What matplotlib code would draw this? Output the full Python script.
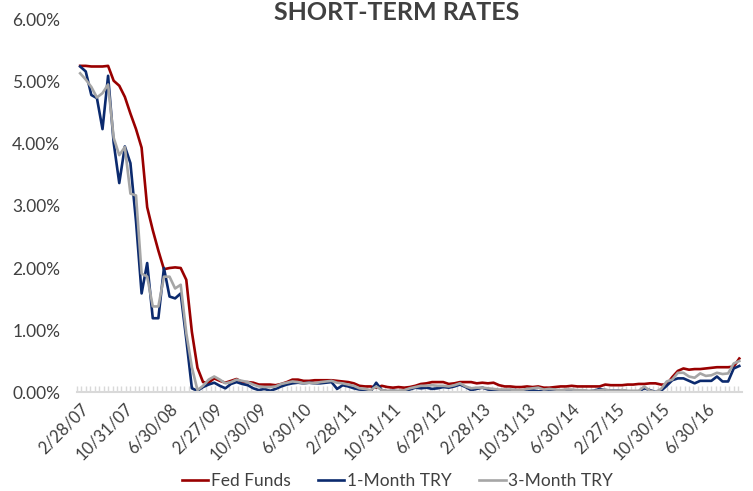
import matplotlib
matplotlib.use("Agg")
import matplotlib.pyplot as plt
import numpy as np

plt.rcParams['font.family'] = ['Lato', 'DejaVu Sans']

# monthly rates in percent, Feb 2007 .. Dec 2016
fed_funds = [
    5.26, 5.26, 5.25, 5.25, 5.25, 5.26, 5.02, 4.94, 4.76, 4.49, 4.24,        # 2007
    3.94, 2.98, 2.61, 2.28, 1.98, 2.00, 2.01, 2.00, 1.81, 0.97, 0.39, 0.16,  # 2008
    0.15, 0.22, 0.18, 0.15, 0.18, 0.21, 0.16, 0.16, 0.15, 0.12, 0.12, 0.12,  # 2009
    0.11, 0.13, 0.16, 0.20, 0.20, 0.18, 0.18, 0.19, 0.19, 0.19, 0.19, 0.18,  # 2010
    0.17, 0.16, 0.14, 0.10, 0.09, 0.09, 0.07, 0.10, 0.08, 0.07, 0.08, 0.07,  # 2011
    0.08, 0.10, 0.13, 0.14, 0.16, 0.16, 0.16, 0.13, 0.14, 0.16, 0.16, 0.16,  # 2012
    0.14, 0.15, 0.14, 0.15, 0.11, 0.09, 0.09, 0.08, 0.08, 0.09, 0.08, 0.09,  # 2013
    0.07, 0.07, 0.08, 0.09, 0.09, 0.10, 0.09, 0.09, 0.09, 0.09, 0.09, 0.12,  # 2014
    0.11, 0.11, 0.11, 0.12, 0.12, 0.13, 0.13, 0.14, 0.14, 0.12, 0.12, 0.24,  # 2015
    0.34, 0.38, 0.36, 0.37, 0.37, 0.38, 0.39, 0.40, 0.40, 0.40, 0.41, 0.54,  # 2016
]
one_month = [
    5.25, 5.17, 4.79, 4.74, 4.24, 5.10, 4.02, 3.37, 3.96, 3.69, 2.75,
    1.59, 2.08, 1.19, 1.19, 2.00, 1.54, 1.51, 1.59, 0.85, 0.06, 0.02, 0.08,
    0.12, 0.15, 0.10, 0.06, 0.13, 0.16, 0.13, 0.11, 0.06, 0.03, 0.05, 0.02,
    0.05, 0.09, 0.12, 0.14, 0.15, 0.14, 0.15, 0.14, 0.14, 0.15, 0.16, 0.05,
    0.11, 0.09, 0.06, 0.04, 0.03, 0.01, 0.15, 0.03, 0.01, 0.02, 0.01, 0.02,
    0.04, 0.07, 0.06, 0.07, 0.05, 0.06, 0.08, 0.07, 0.09, 0.12, 0.08, 0.03,
    0.05, 0.07, 0.04, 0.03, 0.01, 0.02, 0.03, 0.03, 0.01, 0.04, 0.03, 0.01,
    0.02, 0.04, 0.03, 0.02, 0.03, 0.02, 0.02, 0.02, 0.01, 0.02, 0.05, 0.03,
    0.02, 0.02, 0.03, 0.01, 0.01, 0.01, 0.06, 0.03, 0.00, 0.02, 0.10, 0.19,
    0.22, 0.22, 0.18, 0.14, 0.18, 0.18, 0.18, 0.25, 0.17, 0.17, 0.38, 0.42,
]
three_month = [
    5.14, 5.04, 4.92, 4.75, 4.82, 4.96, 4.10, 3.82, 3.95, 3.20, 3.17,
    1.91, 1.86, 1.38, 1.38, 1.86, 1.86, 1.67, 1.73, 0.95, 0.40, 0.03, 0.10,
    0.20, 0.25, 0.20, 0.14, 0.16, 0.20, 0.18, 0.16, 0.12, 0.09, 0.08, 0.08,
    0.09, 0.13, 0.15, 0.17, 0.16, 0.14, 0.15, 0.14, 0.16, 0.17, 0.18, 0.15,
    0.14, 0.12, 0.10, 0.06, 0.05, 0.03, 0.09, 0.03, 0.02, 0.02, 0.02, 0.03,
    0.06, 0.08, 0.10, 0.10, 0.11, 0.10, 0.10, 0.09, 0.11, 0.14, 0.09, 0.06,
    0.07, 0.07, 0.06, 0.05, 0.04, 0.04, 0.04, 0.03, 0.03, 0.05, 0.06, 0.07,
    0.04, 0.05, 0.04, 0.03, 0.04, 0.04, 0.03, 0.03, 0.02, 0.02, 0.03, 0.04,
    0.02, 0.02, 0.03, 0.02, 0.02, 0.02, 0.09, 0.02, 0.00, 0.05, 0.17, 0.20,
    0.31, 0.31, 0.25, 0.23, 0.30, 0.26, 0.27, 0.31, 0.29, 0.30, 0.46, 0.50,
]

tick_labels = ['2/28/07', '10/31/07', '6/30/08', '2/27/09', '10/30/09', '6/30/10',
               '2/28/11', '10/31/11', '6/29/12', '2/28/13', '10/31/13', '6/30/14',
               '2/27/15', '10/30/15', '6/30/16']
series_names = ['Fed Funds', '1-Month TRY', '3-Month TRY']
series_colors = ['#990000', '#0b2a6e', '#a6a6a6']

text_color = '#404040'

fig = plt.figure(figsize=(7.53, 4.91), dpi=100)
ax = fig.add_axes([0.102, 0.2016, 0.8835, 0.7577])

x = np.arange(len(fed_funds))
for vals, name, col in zip([fed_funds, one_month, three_month], series_names, series_colors):
    ax.plot(x, vals, color=col, lw=1.9, label=name, solid_joinstyle='round')

ax.set_xlim(-0.6, len(fed_funds) - 0.5)
ax.set_ylim(0, 6)

ax.set_yticks(range(0, 7))
ax.set_yticklabels(['%.2f%%' % v for v in range(0, 7)])
ax.tick_params(axis='y', length=0, pad=12, labelsize=12.5, labelcolor=text_color)

ax.set_xticks(x[::8])
ax.set_xticklabels(tick_labels, rotation=45, ha='right', va='top', rotation_mode='anchor')
ax.tick_params(axis='x', which='major', length=0, pad=6, labelsize=12, labelcolor=text_color)
ax.set_xticks(np.arange(-0.6, len(fed_funds) - 0.5, 0.8), minor=True)
ax.tick_params(axis='x', which='minor', direction='in', length=4.5, width=1, color='#d9d9d9')

for s in ['top', 'right', 'left']:
    ax.spines[s].set_visible(False)
ax.spines['bottom'].set_color('#d9d9d9')
ax.spines['bottom'].set_linewidth(1.5)

fig.text(0.527, 1 - 20 / 491, 'SHORT-TERM RATES', ha='center', va='baseline',
         fontsize=18, fontweight='bold', color=text_color)

fig.legend(loc='center', bbox_to_anchor=(0.528, 1 - 481 / 491), ncol=3, frameon=False,
           fontsize=12.5, handlelength=1.5, handletextpad=0.15, columnspacing=1.6,
           labelcolor=text_color)

fig.savefig('out.png', dpi=100)
